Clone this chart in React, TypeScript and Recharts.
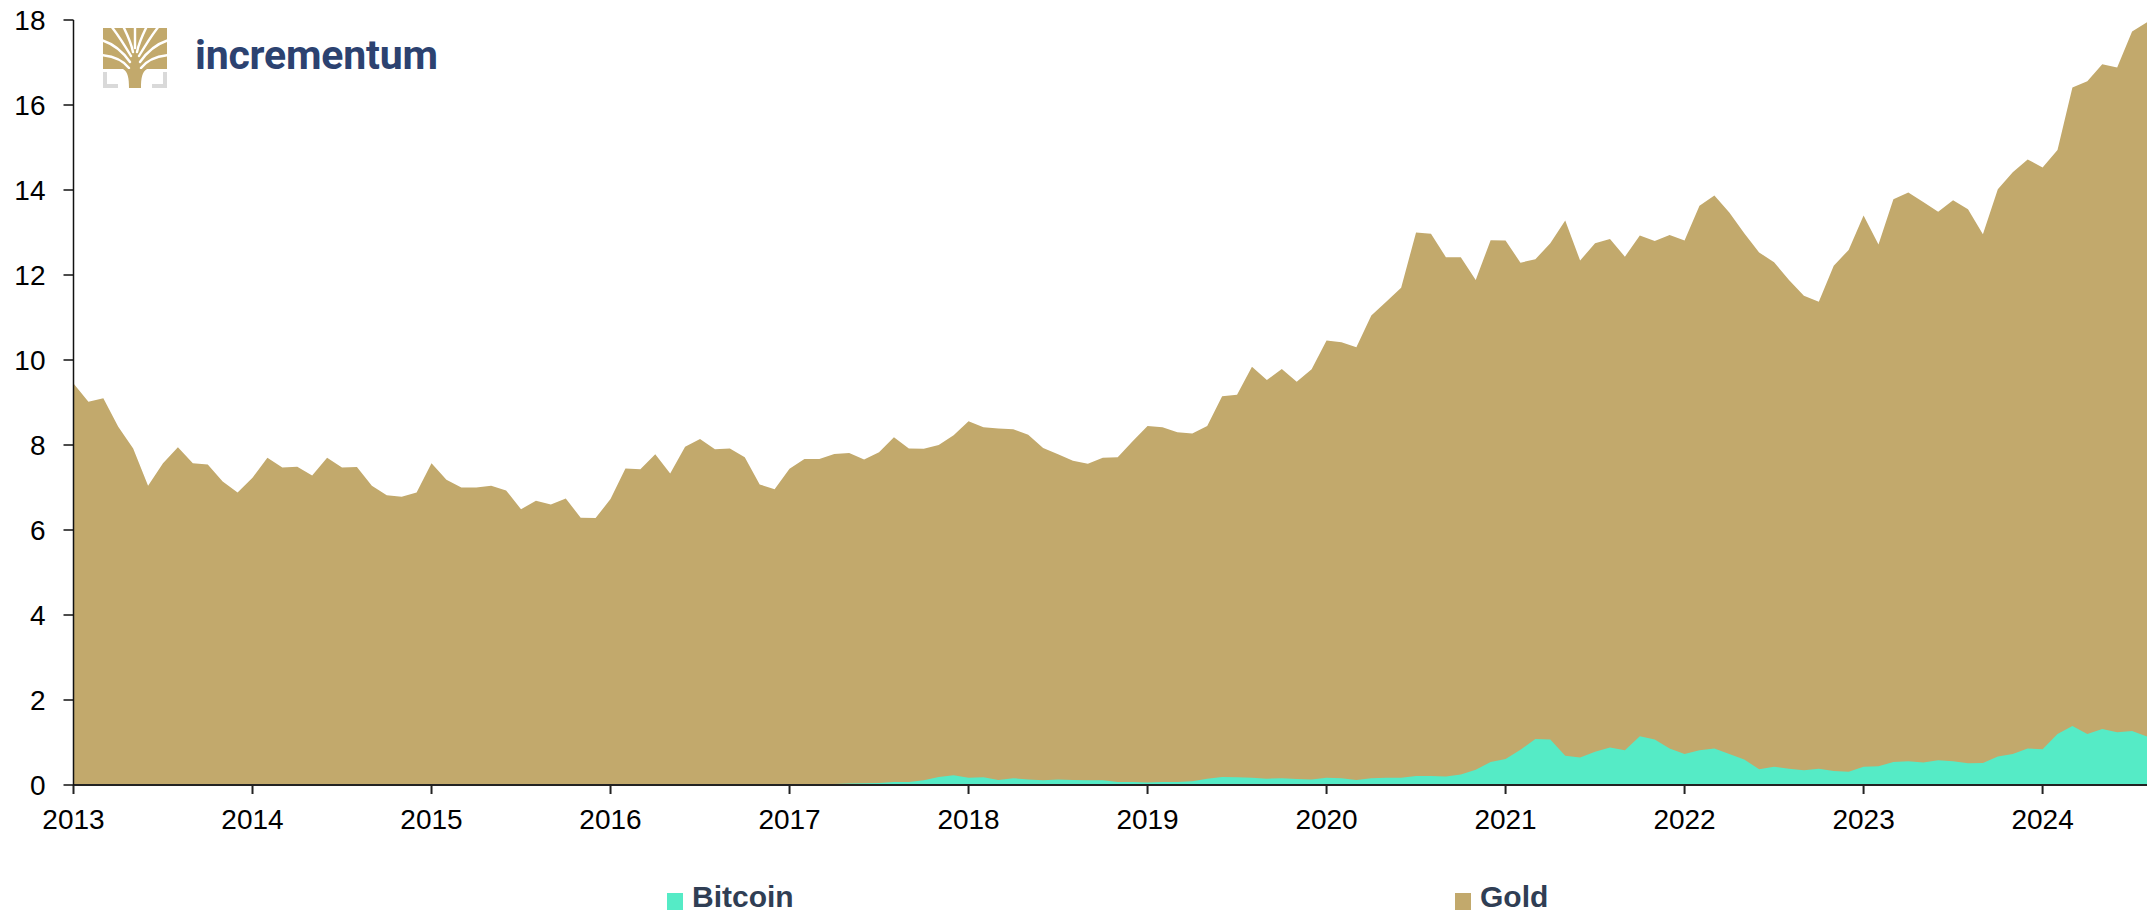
import React from 'react';
import { AreaChart, Area, XAxis, YAxis } from 'recharts';

// monthly values, trillion USD, Jan 2013 .. Aug 2024
const START_YEAR = 2013;

const gold = [
  9.45, 9.02, 9.1, 8.43, 7.92, 7.04, 7.57, 7.95, 7.57, 7.54, 7.14, 6.88,
  7.23, 7.7, 7.47, 7.49, 7.28, 7.7, 7.47, 7.48, 7.04, 6.82, 6.78, 6.88,
  7.57, 7.18, 7.0, 7.0, 7.04, 6.93, 6.49, 6.69, 6.6, 6.74, 6.29, 6.28,
  6.73, 7.45, 7.43, 7.78, 7.33, 7.96, 8.14, 7.9, 7.92, 7.71, 7.07, 6.96,
  7.44, 7.67, 7.67, 7.79, 7.81, 7.66, 7.83, 8.18, 7.92, 7.91, 8.0, 8.23,
  8.56, 8.42, 8.39, 8.37, 8.24, 7.93, 7.78, 7.63, 7.56, 7.7, 7.71, 8.09,
  8.45, 8.42, 8.3, 8.27, 8.45, 9.15, 9.18, 9.84, 9.53, 9.79, 9.49, 9.78,
  10.46, 10.42, 10.3, 11.05, 11.37, 11.7, 13.0, 12.97, 12.42, 12.42, 11.88, 12.82,
  12.81, 12.29, 12.37, 12.75, 13.28, 12.34, 12.75, 12.85, 12.43, 12.93, 12.8, 12.94,
  12.81, 13.63, 13.87, 13.47, 12.98, 12.53, 12.3, 11.88, 11.51, 11.37, 12.22, 12.59,
  13.4, 12.72, 13.78, 13.94, 13.72, 13.49, 13.76, 13.55, 12.96, 14.02, 14.42, 14.72,
  14.53, 14.94, 16.41, 16.56, 16.96, 16.88, 17.73, 17.95,
];

const bitcoin = [
  0.001, 0.002, 0.001, 0.001, 0.001, 0.001, 0.001, 0.002, 0.002, 0.002, 0.013, 0.009,
  0.011, 0.007, 0.006, 0.006, 0.008, 0.008, 0.007, 0.006, 0.005, 0.004, 0.005, 0.004,
  0.003, 0.003, 0.003, 0.003, 0.003, 0.004, 0.004, 0.003, 0.004, 0.005, 0.005, 0.006,
  0.006, 0.007, 0.007, 0.007, 0.008, 0.011, 0.01, 0.009, 0.01, 0.011, 0.012, 0.015,
  0.016, 0.019, 0.017, 0.022, 0.038, 0.041, 0.047, 0.07, 0.07, 0.11, 0.19, 0.23,
  0.17, 0.18, 0.12, 0.16, 0.13, 0.11, 0.13, 0.12, 0.11, 0.11, 0.07, 0.07,
  0.06, 0.07, 0.07, 0.09, 0.15, 0.19, 0.18, 0.17, 0.15, 0.16, 0.14, 0.13,
  0.17, 0.16, 0.12, 0.16, 0.17, 0.17, 0.21, 0.21, 0.2, 0.25, 0.36, 0.54,
  0.61, 0.83, 1.08, 1.07, 0.69, 0.65, 0.78, 0.88, 0.82, 1.15, 1.07, 0.86,
  0.73, 0.82, 0.86, 0.73, 0.6, 0.37, 0.43, 0.38, 0.35, 0.38, 0.33, 0.31,
  0.43, 0.44, 0.54, 0.56, 0.53, 0.58, 0.56, 0.51, 0.52, 0.67, 0.73, 0.86,
  0.84, 1.2, 1.39, 1.2, 1.32, 1.24, 1.27, 1.14,
];

const yearTicks = [2013, 2014, 2015, 2016, 2017, 2018, 2019, 2020, 2021, 2022, 2023, 2024];
const valueTicks = [0, 2, 4, 6, 8, 10, 12, 14, 16, 18];

const GOLD = '#C2A96C';
const BTC = '#55EBC6';

const data = gold.map((g, i) => ({ t: START_YEAR + i / 12, gold: g, bitcoin: bitcoin[i] }));

const Logo = () => (
  <div style={{ position: 'absolute', left: 103, top: 28, display: 'flex', alignItems: 'flex-start' }}>
    <svg width={64} height={60} viewBox="0 0 64 60">
      <rect x={0} y={0} width={64} height={41} fill={GOLD} />
      <g stroke="#fff" strokeWidth={2.4} fill="none" strokeLinecap="round">
        <path d="M26 40 C 20 32, 10 28, -2 27" />
        <path d="M27 34 C 20 24, 12 16, -2 12" />
        <path d="M28 28 C 22 18, 16 8, 8 -2" />
        <path d="M30 24 C 28 14, 24 6, 20 -2" />
        <path d="M34 24 C 36 14, 40 6, 44 -2" />
        <path d="M36 28 C 42 18, 48 8, 56 -2" />
        <path d="M37 34 C 44 24, 52 16, 66 12" />
        <path d="M38 40 C 44 32, 54 28, 66 27" />
        <path d="M32 20 L 32 -2" />
      </g>
      <path d="M20 41 C 25 44, 26 50, 26 60 L 38 60 C 38 50, 39 44, 44 41 Z" fill={GOLD} />
      <g stroke="#D9D9D9" strokeWidth={4} fill="none">
        <path d="M2 44 V58 H15" />
        <path d="M62 44 V58 H49" />
      </g>
    </svg>
    <span
      style={{
        marginLeft: 28,
        marginTop: 3,
        fontFamily: 'Roboto, "Liberation Sans", Arial, sans-serif',
        fontWeight: 700,
        fontSize: 41,
        letterSpacing: -0.2,
        color: '#2C4270',
      }}
    >
      incrementum
    </span>
  </div>
);

const LegendItem = ({ color, label, left }: { color: string; label: string; left: number }) => (
  <div style={{ position: 'absolute', left, top: 880, display: 'flex', alignItems: 'center' }}>
    <div style={{ width: 16, height: 17, background: color, marginTop: 8 }} />
    <span
      style={{
        marginLeft: 9,
        fontFamily: '"Liberation Sans", Arial, sans-serif',
        fontWeight: 700,
        fontSize: 30,
        color: '#303E54',
        lineHeight: '34px',
      }}
    >
      {label}
    </span>
  </div>
);

export default function App() {
  return (
    <div style={{ position: 'absolute', left: 0, top: 0, width: 2147, height: 915, background: '#fff', overflow: 'hidden' }}>
      <AreaChart width={2147} height={915} data={data} margin={{ top: 20, right: 0, left: 13.5, bottom: 80 }}>
        <XAxis
          dataKey="t"
          type="number"
          domain={[START_YEAR, START_YEAR + (gold.length - 1) / 12]}
          ticks={yearTicks}
          allowDataOverflow
          height={50}
          tickSize={9}
          tickMargin={15}
          stroke="#222"
          strokeWidth={2}
          tick={{ fill: '#000', fontSize: 28, fontFamily: '"Liberation Sans", Arial, sans-serif' }}
        />
        <YAxis
          domain={[0, 18]}
          ticks={valueTicks}
          width={60}
          tickSize={10}
          tickMargin={18}
          stroke="#111"
          strokeWidth={1.5}
          tick={{ fill: '#000', fontSize: 28, fontFamily: '"Liberation Sans", Arial, sans-serif' }}
        />
        <Area type="linear" dataKey="gold" stroke="none" fill={GOLD} fillOpacity={1} isAnimationActive={false} />
        <Area type="linear" dataKey="bitcoin" stroke="none" fill={BTC} fillOpacity={1} isAnimationActive={false} />
      </AreaChart>
      <Logo />
      <LegendItem color={BTC} label="Bitcoin" left={667} />
      <LegendItem color={GOLD} label="Gold" left={1455} />
    </div>
  );
}
